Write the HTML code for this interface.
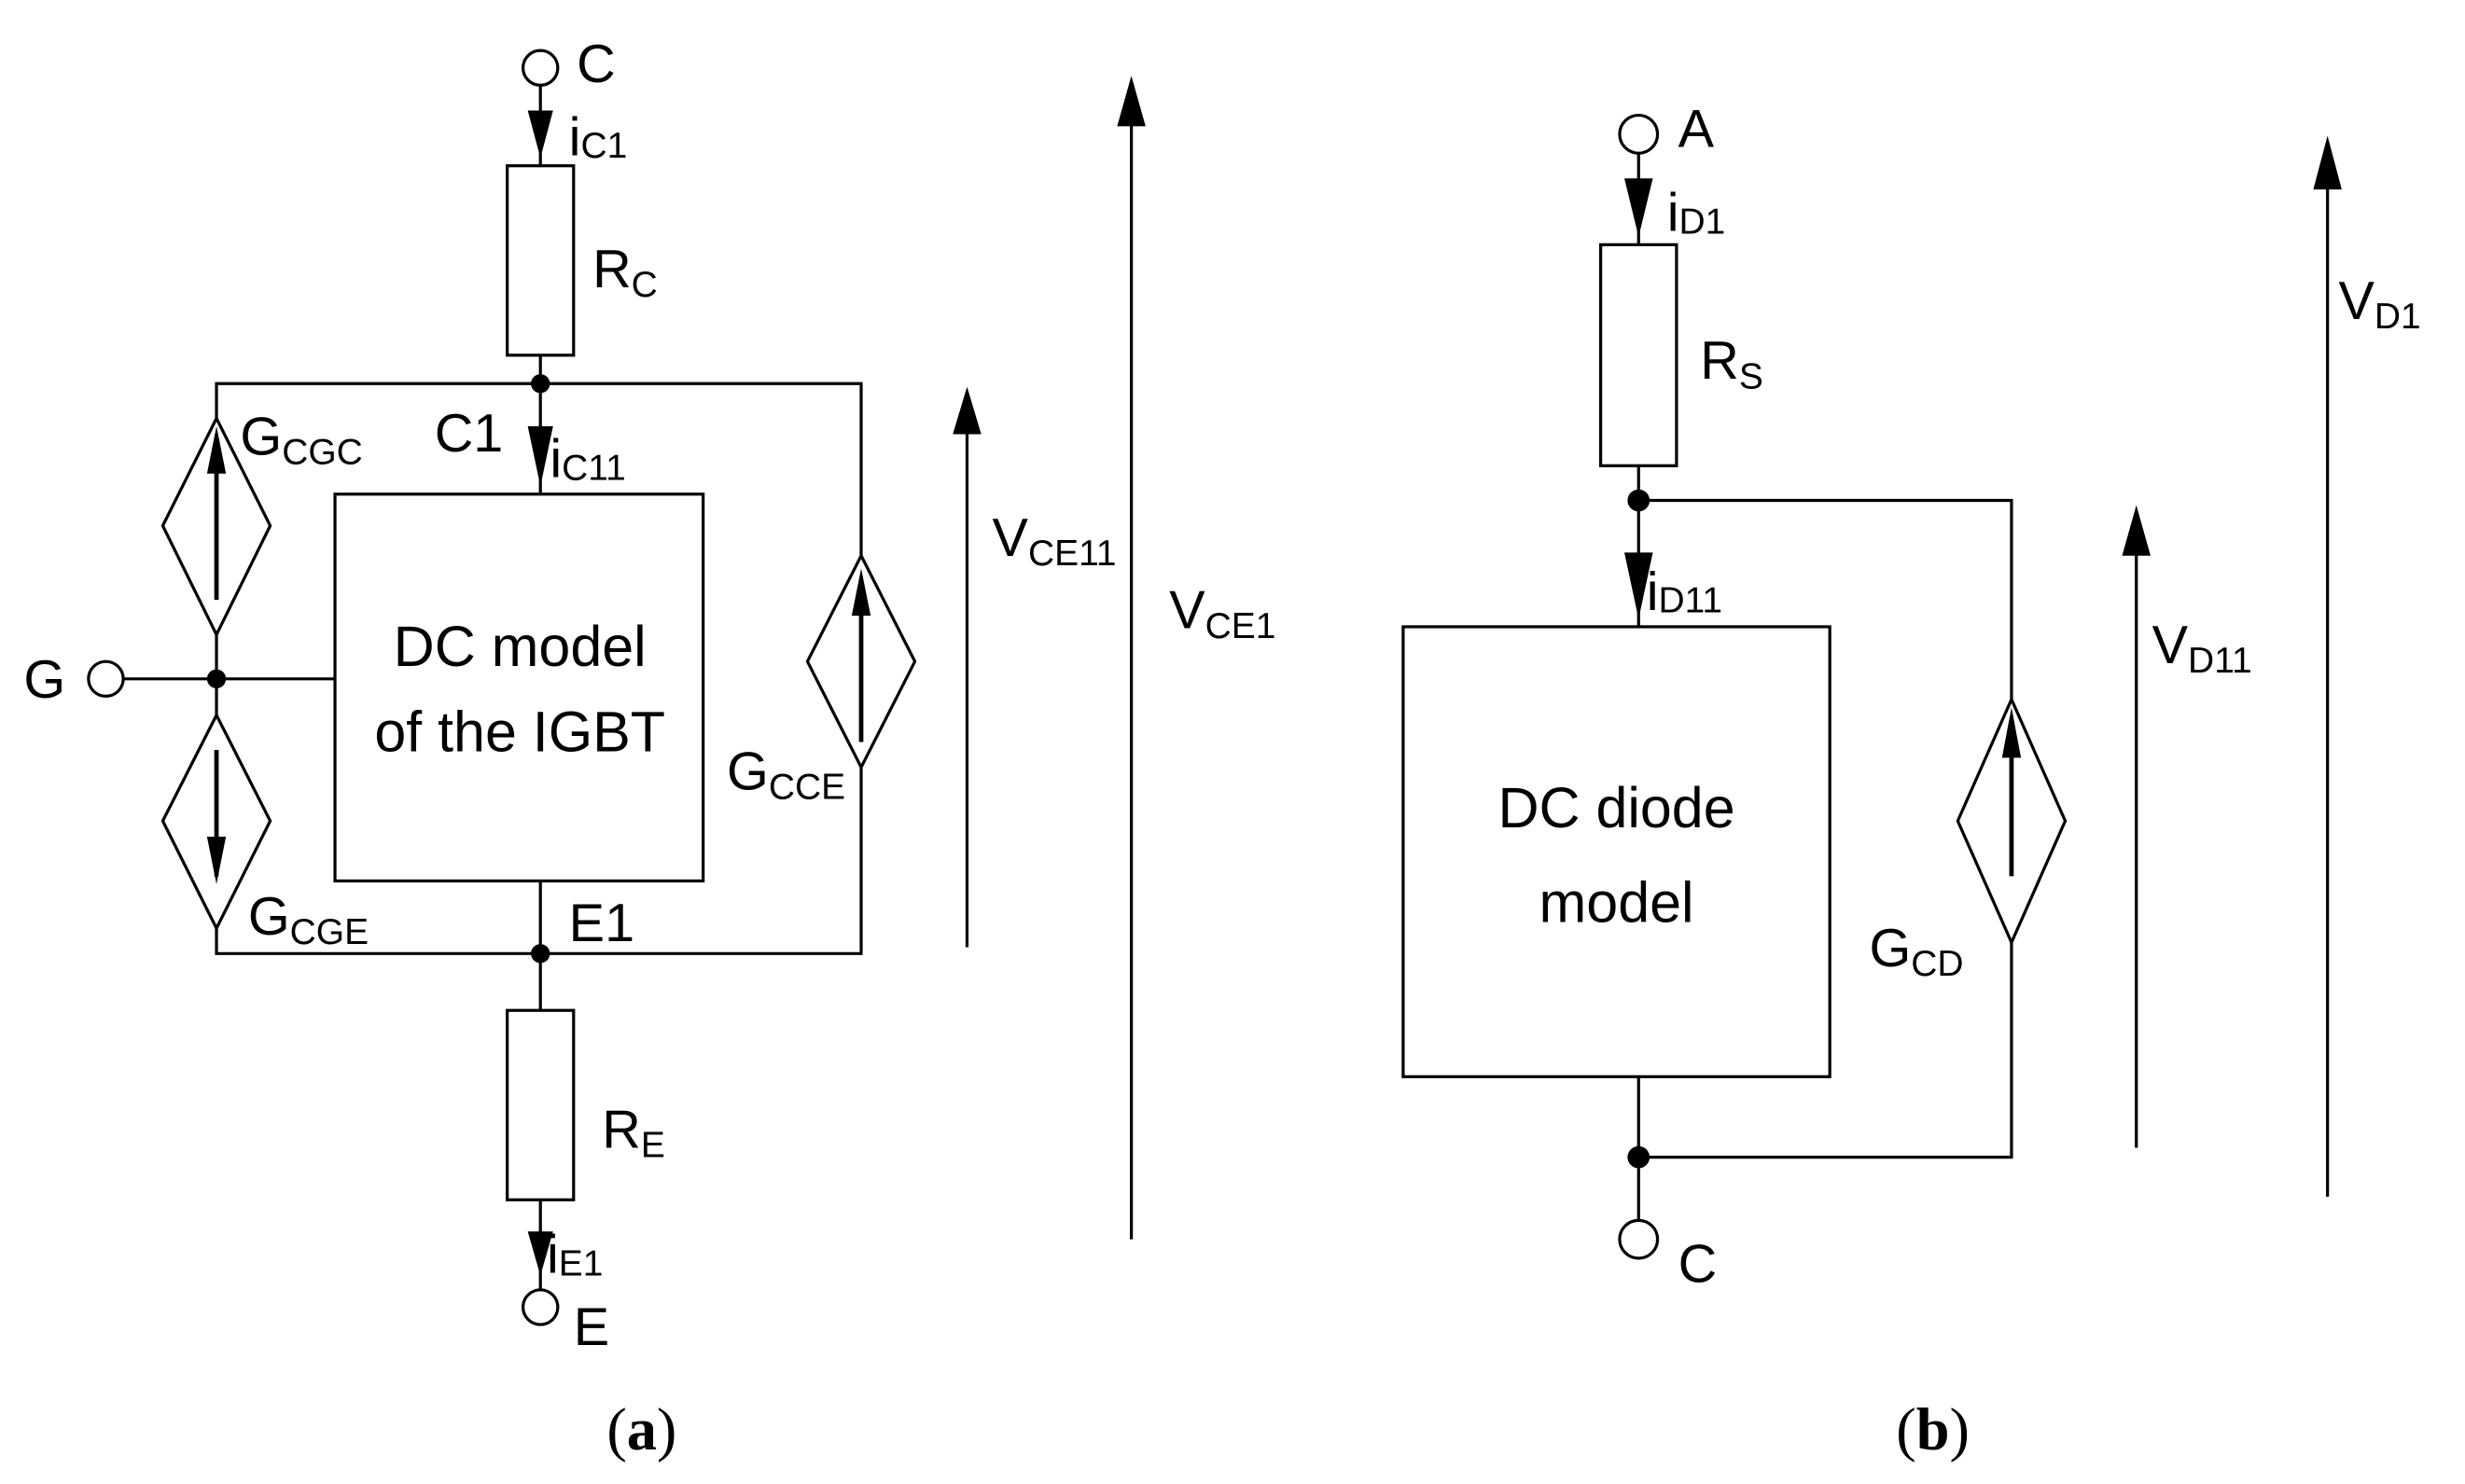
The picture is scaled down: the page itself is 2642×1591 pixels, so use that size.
<!DOCTYPE html>
<html><head><meta charset="utf-8"><style>
html,body{margin:0;padding:0;background:#fff;}
svg{display:block;}
text{font-family:"Liberation Sans",sans-serif;fill:#000;}
.l{font-size:34px;}
.s{font-size:23px;}
.b{font-size:36px;}
.cap{font-family:"Liberation Serif",serif;font-size:38px;}
</style></head><body>
<svg width="2642" height="1591" viewBox="0 0 1560 940" preserveAspectRatio="none" xmlns="http://www.w3.org/2000/svg">
<g stroke="#000" stroke-width="1.9" fill="none">
<!-- LEFT CIRCUIT -->
<circle cx="342" cy="43" r="11" fill="#fff"/>
<line x1="342" y1="54" x2="342" y2="105"/>
<rect x="321" y="105" width="42" height="120"/>
<line x1="342" y1="225" x2="342" y2="313"/>
<polyline points="137,265 137,243 545,243 545,352"/>
<polygon points="137,265 171,333 137,402 103,333"/>
<line x1="137" y1="402" x2="137" y2="453"/>
<polygon points="137,453 171,520 137,588 103,520"/>
<polyline points="137,588 137,604 545,604 545,486"/>
<polygon points="545,352 579,419 545,486 511,419"/>
<circle cx="67" cy="430" r="11" fill="#fff"/>
<line x1="78" y1="430" x2="212" y2="430"/>
<rect x="212" y="313" width="233" height="245"/>
<line x1="342" y1="558" x2="342" y2="640"/>
<rect x="321" y="640" width="42" height="120"/>
<line x1="342" y1="760" x2="342" y2="817"/>
<circle cx="342" cy="828" r="11" fill="#fff"/>
<line x1="612" y1="600" x2="612" y2="270"/>
<line x1="716" y1="785" x2="716" y2="75"/>
<line x1="137" y1="295" x2="137" y2="380" stroke-width="2.8"/>
<line x1="137" y1="475" x2="137" y2="555" stroke-width="2.8"/>
<line x1="545" y1="385" x2="545" y2="470" stroke-width="2.8"/>
<!-- RIGHT CIRCUIT -->
<circle cx="1037" cy="85" r="12" fill="#fff"/>
<line x1="1037" y1="97" x2="1037" y2="155"/>
<rect x="1013" y="155" width="48" height="140"/>
<line x1="1037" y1="295" x2="1037" y2="397"/>
<polyline points="1037,317 1273,317 1273,443"/>
<polygon points="1273,443 1307,520 1273,597 1239,520"/>
<polyline points="1273,597 1273,733 1037,733"/>
<rect x="888" y="397" width="270" height="285"/>
<line x1="1037" y1="682" x2="1037" y2="773"/>
<circle cx="1037" cy="785" r="12" fill="#fff"/>
<line x1="1273" y1="475" x2="1273" y2="555" stroke-width="2.8"/>
<line x1="1352" y1="727" x2="1352" y2="345"/>
<line x1="1473" y1="758" x2="1473" y2="112"/>
</g>
<g fill="#000">
<circle cx="342" cy="243" r="6"/>
<circle cx="137" cy="430" r="6"/>
<circle cx="342" cy="604" r="6"/>
<circle cx="1037" cy="317" r="7"/>
<circle cx="1037" cy="733" r="7"/>
<polygon points="334,70 350,70 342,100"/>
<polygon points="334,270 350,270 342,308"/>
<polygon points="334,780 350,780 342,808"/>
<polygon points="1028,113 1046,113 1037,150"/>
<polygon points="1028,350 1046,350 1037,392"/>
<polygon points="131,300 143,300 137,270"/>
<polygon points="131,530 143,530 137,560"/>
<polygon points="539,390 551,390 545,360"/>
<polygon points="1267,480 1279,480 1273,448"/>
<polygon points="603,275 621,275 612,245"/>
<polygon points="707,80 725,80 716,48"/>
<polygon points="1343,352 1361,352 1352,320"/>
<polygon points="1464,120 1482,120 1473,86"/>
</g>
<text class="l" x="365" y="52">C</text>
<text class="l" x="360" y="98">i<tspan class="s" dy="2">C1</tspan></text>
<text class="l" x="375" y="182">R<tspan class="s" dy="6">C</tspan></text>
<text class="l" x="152" y="288">G<tspan class="s" dy="6">CGC</tspan></text>
<text class="l" x="275" y="286">C1</text>
<text class="l" x="348" y="302">i<tspan class="s" dy="2">C11</tspan></text>
<text class="l" x="15" y="442">G</text>
<text class="b" x="329" y="422" text-anchor="middle">DC model</text>
<text class="b" x="329" y="476" text-anchor="middle">of the IGBT</text>
<text class="l" x="460" y="500">G<tspan class="s" dy="6">CCE</tspan></text>
<text class="l" x="157" y="592">G<tspan class="s" dy="6">CGE</tspan></text>
<text class="l" x="360" y="596">E1</text>
<text class="l" x="381" y="727">R<tspan class="s" dy="6">E</tspan></text>
<text class="l" x="346" y="806">i<tspan class="s" dy="2">E1</tspan></text>
<text class="l" x="363" y="852">E</text>
<text class="l" x="628" y="352">V<tspan class="s" dy="6">CE11</tspan></text>
<text class="l" x="740" y="398">V<tspan class="s" dy="6">CE1</tspan></text>
<text class="cap" x="384" y="918">(<tspan font-weight="bold">a</tspan>)</text>
<text class="l" x="1062" y="93">A</text>
<text class="l" x="1055" y="146">i<tspan class="s" dy="2">D1</tspan></text>
<text class="l" x="1076" y="240">R<tspan class="s" dy="6">S</tspan></text>
<text class="l" x="1042" y="386">i<tspan class="s" dy="2">D11</tspan></text>
<text class="b" x="1023" y="524" text-anchor="middle" font-size="42">DC diode</text>
<text class="b" x="1023" y="584" text-anchor="middle" font-size="42">model</text>
<text class="l" x="1183" y="612">G<tspan class="s" dy="6">CD</tspan></text>
<text class="l" x="1062" y="812">C</text>
<text class="l" x="1362" y="420">V<tspan class="s" dy="6">D11</tspan></text>
<text class="l" x="1480" y="202">V<tspan class="s" dy="6">D1</tspan></text>
<text class="cap" x="1200" y="918">(<tspan font-weight="bold">b</tspan>)</text>
</svg>
</body></html>
